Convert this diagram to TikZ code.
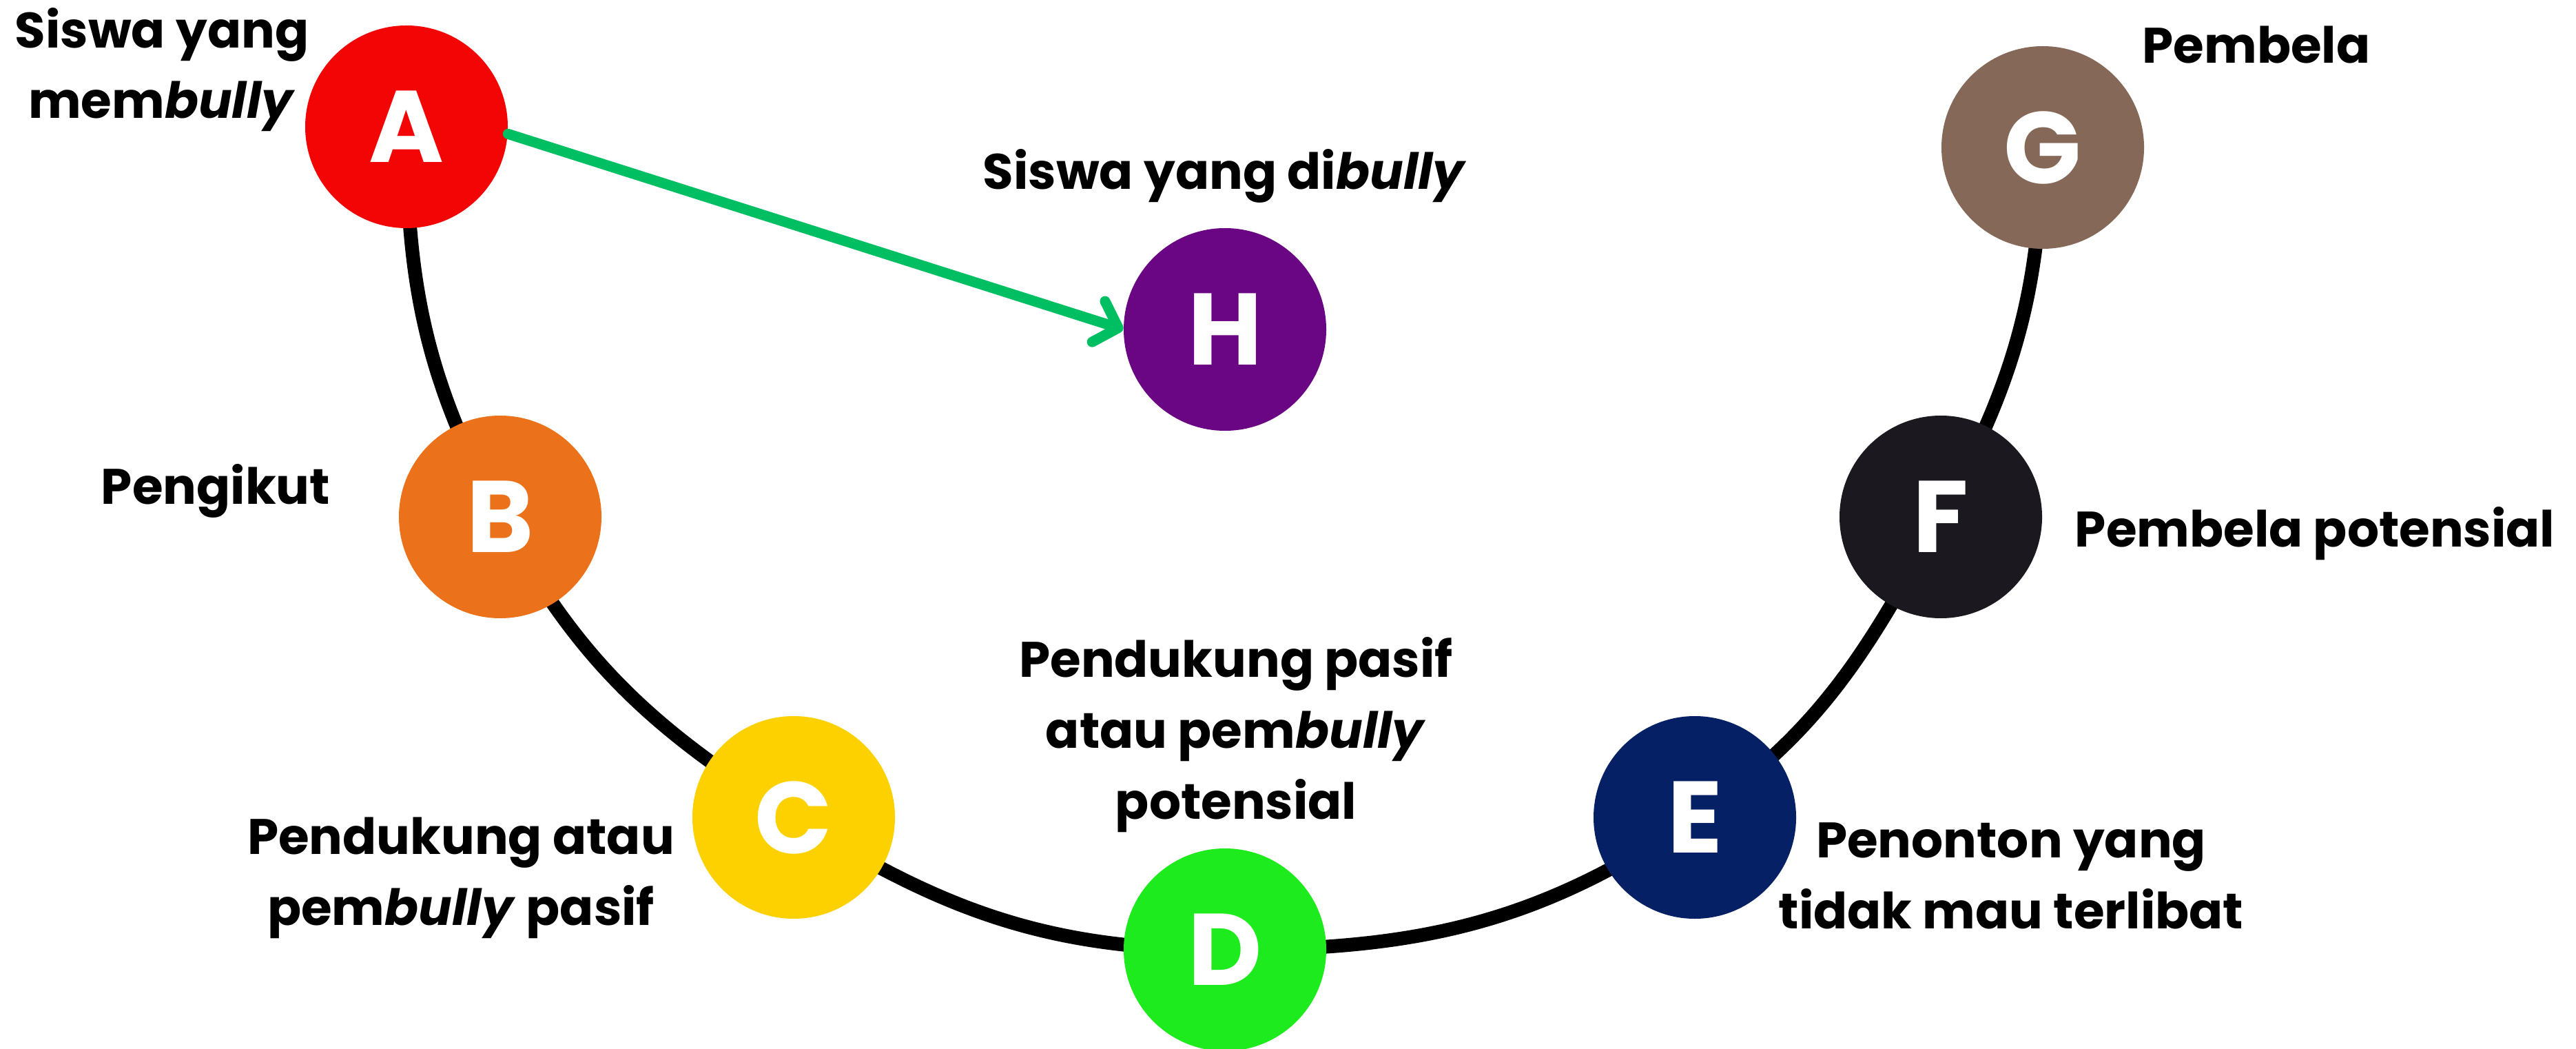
\documentclass[tikz,border=0pt]{standalone}
\usepackage{fontspec}
\setmainfont{Poppins}
\usetikzlibrary{arrows.meta,backgrounds}
\definecolor{cA}{HTML}{F30505}
\definecolor{cB}{HTML}{EC711B}
\definecolor{cC}{HTML}{FDD100}
\definecolor{cD}{HTML}{1DEB1D}
\definecolor{cE}{HTML}{062065}
\definecolor{cF}{HTML}{1B1820}
\definecolor{cG}{HTML}{856858}
\definecolor{cH}{HTML}{6A0683}
\definecolor{cArrow}{HTML}{00BF63}
\tikzset{
  role/.style={circle, minimum size=2.94cm, inner sep=0pt, fill=#1, text=white,
    font=\bfseries\fontsize{42}{42}\selectfont},
  lbl/.style={anchor=base, inner sep=0pt, align=center,
    font=\bfseries\fontsize{20.6}{29.3}\selectfont},
  ringline/.style={line width=0.2cm, black},
  bullyarrow/.style={line width=0.15cm, cArrow, line cap=round,
    -{Straight Barb[length=0.3cm, width=0.62cm, line cap=round, line join=round]}}
}
\begin{document}
\begin{tikzpicture}
\useasboundingbox (0,0) rectangle (37.39,-15.22);
\node[role=cA] (A) at (5.90,-1.84) {A};
\node[role=cB] (B) at (7.26,-7.50) {B};
\node[role=cC] (C) at (11.52,-11.86) {C};
\node[role=cD] (D) at (17.78,-13.78) {D};
\node[role=cE] (E) at (24.60,-11.86) {E};
\node[role=cF] (F) at (28.17,-7.50) {F};
\node[role=cG] (G) at (29.65,-2.14) {G};
\node[role=cH] (H) at (17.78,-4.78) {H};
\begin{scope}[on background layer]
\fill[white] (0,0) rectangle (37.39,-15.22);
\draw[ringline] (A.center) to[out=270, in=118.3] (B.center)
  to[out=298.3, in=148] (C.center)
  to[out=328, in=180] (D.center)
  to[out=0, in=214.2] (E.center)
  to[out=34.2, in=241.4] (F.center)
  to[out=61.4, in=268.5] (G.center);
\end{scope}
\draw[bullyarrow] (A.-4) -- (H.west);
\node[lbl] (tA) at (2.35,-1.72) {Siswa yang\\mem\textit{bully}};
\node[lbl] (tH) at (17.78,-2.75) {Siswa yang di\textit{bully}};
\node[lbl] (tG) at (32.75,-0.92) {Pembela};
\node[lbl] (tB) at (3.13,-7.31) {Pengikut};
\node[lbl] (tC) at (6.69,-13.42) {Pendukung atau\\pem\textit{bully} pasif};
\node[lbl] (tD) at (17.94,-11.88) {Pendukung pasif\\atau pem\textit{bully}\\potensial};
\node[lbl] (tF) at (33.60,-7.93) {Pembela potensial};
\node[lbl] (tE) at (29.19,-13.47) {Penonton yang\\tidak mau terlibat};
\end{tikzpicture}
\end{document}
